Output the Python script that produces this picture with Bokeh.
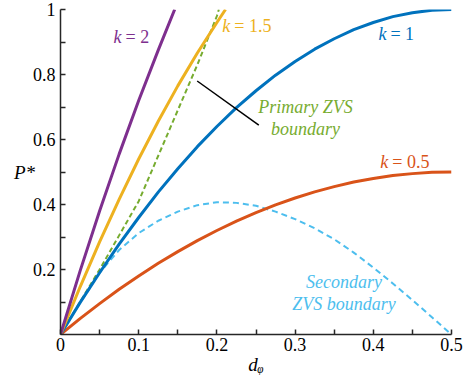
from bokeh.plotting import figure
from bokeh.models import Range1d, FixedTicker, CustomJSTickFormatter, Label
from bokeh.embed import file_html
from bokeh.resources import INLINE

# ---- data ----
d_k2 = [0, 0.025, 0.05, 0.075, 0.1, 0.125, 0.146]
p_k2 = [0, 0.195, 0.38, 0.555, 0.72, 0.875, 1.0]

d_k15 = [0, 0.025, 0.05, 0.075, 0.1, 0.125, 0.15, 0.175, 0.2, 0.211]
p_k15 = [0, 0.146, 0.285, 0.416, 0.54, 0.656, 0.765, 0.866, 0.96, 1.0]

d_full = [0, 0.025, 0.05, 0.075, 0.1, 0.125, 0.15, 0.175, 0.2, 0.225, 0.25,
          0.275, 0.3, 0.325, 0.35, 0.375, 0.4, 0.425, 0.45, 0.475, 0.5]
p_k1 = [0, 0.098, 0.19, 0.278, 0.36, 0.438, 0.51, 0.578, 0.64, 0.698, 0.75,
        0.798, 0.84, 0.878, 0.91, 0.938, 0.96, 0.978, 0.99, 0.998, 1.0]
p_k05 = [0, 0.049, 0.095, 0.139, 0.18, 0.219, 0.255, 0.289, 0.32, 0.349, 0.375,
         0.399, 0.42, 0.439, 0.455, 0.469, 0.48, 0.489, 0.495, 0.499, 0.5]

d_prim = [0, 0.025, 0.05, 0.075, 0.1, 0.125, 0.15, 0.175, 0.2, 0.2025]
p_prim = [0, 0.1, 0.2, 0.305, 0.41, 0.55, 0.69, 0.83, 0.98, 1.0]

p_sec = [0, 0.097, 0.19, 0.26, 0.312, 0.35, 0.378, 0.398, 0.407, 0.405, 0.396,
         0.378, 0.355, 0.327, 0.293, 0.252, 0.206, 0.157, 0.106, 0.053, 0.0]

x_ticks = [0, 0.1, 0.2, 0.3, 0.4, 0.5]
x_minor = [0.05, 0.15, 0.25, 0.35, 0.45]
y_ticks = [0.2, 0.4, 0.6, 0.8, 1.0]
y_minor = [0.1, 0.3, 0.5, 0.7, 0.9]

pointer_d = [0.1748, 0.2536]
pointer_p = [0.78, 0.644]

# ---- styles ----
PURPLE = "#7E2F8E"
YELLOW = "#EDB120"
BLUE = "#0072BD"
ORANGE = "#D95319"
GREEN = "#77AC30"
CYAN = "#4DBEEE"
FONT = "Liberation Serif"
AX = "#262626"

p = figure(width=473, height=377, output_backend="svg", toolbar_location=None,
           x_range=Range1d(0, 0.5), y_range=Range1d(0, 1),
           min_border_left=60, min_border_right=22, min_border_top=9,
           min_border_bottom=43)
p.outline_line_color = None
p.xgrid.visible = False
p.ygrid.visible = False
p.background_fill_color = "white"
p.border_fill_color = "white"

p.xaxis.axis_line_color = AX
p.yaxis.axis_line_color = AX
p.xaxis.axis_line_width = 1.5
p.yaxis.axis_line_width = 1.5
p.xaxis.major_tick_line_color = AX
p.yaxis.major_tick_line_color = AX
p.xaxis.minor_tick_line_color = AX
p.yaxis.minor_tick_line_color = AX
p.xaxis.major_tick_line_width = 1.5
p.yaxis.major_tick_line_width = 1.5
p.xaxis.minor_tick_line_width = 1.5
p.yaxis.minor_tick_line_width = 1.5
p.xaxis.major_tick_in = 5
p.yaxis.major_tick_in = 5
p.xaxis.major_tick_out = 0
p.yaxis.major_tick_out = 0
p.xaxis.minor_tick_in = 5
p.yaxis.minor_tick_in = 5
p.xaxis.minor_tick_out = 0
p.yaxis.minor_tick_out = 0
p.xaxis.major_label_text_font = FONT
p.yaxis.major_label_text_font = FONT
p.xaxis.major_label_text_font_size = "18px"
p.yaxis.major_label_text_font_size = "18px"
p.xaxis.major_label_text_color = "black"
p.yaxis.major_label_text_color = "black"
p.xaxis.formatter = CustomJSTickFormatter(code="return tick.toString();")
p.yaxis.formatter = CustomJSTickFormatter(code="return tick.toString();")
p.xaxis.ticker = FixedTicker(ticks=x_ticks, minor_ticks=x_minor)
p.yaxis.ticker = FixedTicker(ticks=y_ticks, minor_ticks=y_minor)
p.xaxis.major_label_standoff = 3
p.yaxis.major_label_standoff = 5

# axis titles
p.yaxis.axis_label = "P*"
p.yaxis.axis_label_orientation = "horizontal"
p.yaxis.axis_label_text_font = FONT
p.yaxis.axis_label_text_font_style = "italic"
p.yaxis.axis_label_text_font_size = "19px"
p.yaxis.axis_label_text_color = "black"
p.yaxis.axis_label_standoff = -5
p.xaxis.axis_label = "d\u1d69"
p.xaxis.axis_label_text_font = FONT
p.xaxis.axis_label_text_font_style = "italic"
p.xaxis.axis_label_text_font_size = "19px"
p.xaxis.axis_label_text_color = "black"
p.xaxis.axis_label_standoff = 0

# dashed boundaries
p.line(d_full, p_sec, line_color=CYAN, line_width=2, line_dash="6 4")
p.line(d_prim, p_prim, line_color=GREEN, line_width=2, line_dash="5 3")

# solid curves
p.line(d_full, p_k05, line_color=ORANGE, line_width=3)
p.line(d_full, p_k1, line_color=BLUE, line_width=3)
p.line(d_k15, p_k15, line_color=YELLOW, line_width=3)
p.line(d_k2, p_k2, line_color=PURPLE, line_width=3)

# pointer line
p.line(pointer_d, pointer_p, line_color="black", line_width=1.5)


def add_k(x, y, rest, color):
    p.add_layout(Label(x=x, y=y, text="k", text_font=FONT, text_font_style="italic",
                       text_font_size="18px", text_color=color))
    p.add_layout(Label(x=x, y=y, x_offset=12, text=rest, text_font=FONT,
                       text_font_size="18px", text_color=color))


add_k(0.0678, 0.884, "= 2", PURPLE)
add_k(0.207, 0.917, "= 1.5", YELLOW)
add_k(0.4066, 0.893, "= 1", BLUE)
add_k(0.409, 0.499, "= 0.5", ORANGE)


def add_text(x, y, txt, color):
    p.add_layout(Label(x=x, y=y, text=txt, text_font=FONT, text_font_style="italic",
                       text_font_size="18px", text_color=color, text_align="center"))


add_text(0.3133, 0.670, "Primary ZVS", GREEN)
add_text(0.3133, 0.601, "boundary", GREEN)
add_text(0.3625, 0.131, "Secondary", CYAN)
add_text(0.3625, 0.064, "ZVS boundary", CYAN)

open("out.html", "w").write(file_html(p, INLINE))
